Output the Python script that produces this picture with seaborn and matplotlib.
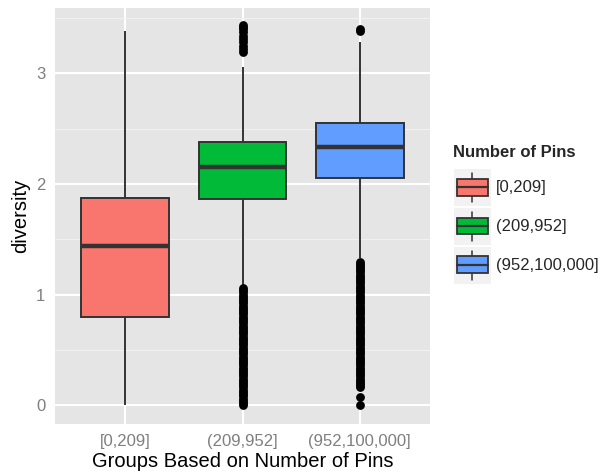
import matplotlib

matplotlib.use("Agg")
import matplotlib.pyplot as plt
import pandas as pd
import seaborn as sns
from matplotlib.legend_handler import HandlerBase
from matplotlib.lines import Line2D
from matplotlib.patches import Patch, Rectangle

# five-number summaries, one entry per group
groups = ["[0,209]", "(209,952]", "(952,100,000]"]
colors = ["#F8766D", "#00BA38", "#619CFF"]
whisker_low = [0.00, 1.09, 1.33]
q1 = [0.80, 1.86, 2.05]
median = [1.44, 2.15, 2.33]
q3 = [1.87, 2.38, 2.55]
whisker_high = [3.38, 3.06, 3.28]

# outliers beyond the whiskers
outliers_1 = []
outliers_2 = [
    0.00, 0.02, 0.04, 0.06, 0.08, 0.10, 0.12, 0.14, 0.16, 0.18,
    0.20, 0.22, 0.24, 0.26, 0.28, 0.30, 0.32, 0.34, 0.36, 0.38,
    0.40, 0.42, 0.44, 0.46, 0.48, 0.50, 0.52, 0.54, 0.56, 0.58,
    0.60, 0.62, 0.64, 0.66, 0.68, 0.70, 0.72, 0.74, 0.76, 0.78,
    0.80, 0.82, 0.84, 0.86, 0.88, 0.90, 0.92, 0.94, 0.96, 0.98,
    1.00, 1.02, 1.04, 1.06,
    3.19, 3.22, 3.25, 3.28, 3.31, 3.34, 3.37, 3.40, 3.42, 3.44,
]
outliers_3 = [
    0.00, 0.07,
    0.16, 0.18, 0.20, 0.22, 0.24, 0.26, 0.28, 0.30, 0.32, 0.34,
    0.36, 0.38, 0.40, 0.42, 0.44, 0.46, 0.48, 0.50, 0.52, 0.54,
    0.56, 0.58, 0.60, 0.62, 0.64, 0.66, 0.68, 0.70, 0.72, 0.74,
    0.76, 0.78, 0.80, 0.82, 0.84, 0.86, 0.88, 0.90, 0.92, 0.94,
    0.96, 0.98, 1.00, 1.02, 1.04, 1.06, 1.08, 1.10, 1.12, 1.14,
    1.16, 1.18, 1.20, 1.22, 1.24, 1.26, 1.28, 1.29,
    3.38, 3.40,
]
outliers = [outliers_1, outliers_2, outliers_3]

# rebuild a sample per group whose quartiles land on the read values
REPEAT = 200
rows = []
for i, name in enumerate(groups):
    values = (
        [whisker_low[i], whisker_high[i]]
        + [q1[i]] * REPEAT
        + [median[i]] * REPEAT
        + [q3[i]] * REPEAT
        + outliers[i]
    )
    rows += [(name, v) for v in values]
df = pd.DataFrame(rows, columns=["group", "diversity"])

sns.set_theme(style="darkgrid")
plt.rcParams["font.family"] = ["Liberation Sans", "DejaVu Sans"]

fig = plt.figure(figsize=(6.02, 4.71), dpi=100)
ax = fig.add_axes([55 / 602, 47 / 471, 375 / 602, 416 / 471])
ax.set_facecolor("#E5E5E5")

sns.boxplot(
    data=df, x="group", y="diversity", hue="group", order=groups, hue_order=groups,
    palette=colors, saturation=1, width=0.75, linecolor="#333333", linewidth=1.4,
    showcaps=False, whis=1.5, fliersize=5.3, legend=False, ax=ax,
    flierprops=dict(marker="o", markerfacecolor="black", markeredgecolor="black",
                    markersize=5.3),
    medianprops=dict(linewidth=3.2),
)

ax.set_xlim(-0.6, 2.6)
ax.set_ylim(-0.17, 3.59)
ax.set_yticks([0, 1, 2, 3])
ax.set_yticks([0.5, 1.5, 2.5, 3.5], minor=True)
ax.grid(which="major", color="white", linewidth=1.5)
ax.grid(which="minor", axis="y", color="#F2F2F2", linewidth=0.7)
ax.set_axisbelow(True)
for s in ax.spines.values():
    s.set_visible(False)
ax.tick_params(which="major", length=3.6, width=0.8, color="#7F7F7F",
               labelcolor="#7F7F7F", labelsize=12, pad=3.5)
ax.tick_params(which="minor", length=0)
ax.set_xlabel("Groups Based on Number of Pins", fontsize=14.5, color="black", labelpad=2)
ax.set_ylabel("diversity", fontsize=14.5, color="black", labelpad=4)


class BoxKey(HandlerBase):
    def create_artists(self, legend, orig_handle, xdescent, ydescent, width, height,
                       fontsize, trans):
        x0, y0 = -xdescent, -ydescent
        bg = Rectangle((x0, y0), width, height, facecolor="#F2F2F2", edgecolor="none",
                       transform=trans)
        cx = x0 + width / 2
        whisk = Line2D([cx, cx], [y0 + 0.1 * height, y0 + 0.9 * height],
                       color="#333333", lw=1.1, transform=trans)
        box = Rectangle((x0 + 0.08 * width, y0 + 0.28 * height), 0.84 * width,
                        0.46 * height, facecolor=orig_handle.get_facecolor(),
                        edgecolor="#333333", lw=1.3, transform=trans)
        med = Line2D([x0 + 0.08 * width, x0 + 0.92 * width],
                     [y0 + 0.52 * height] * 2, color="#333333", lw=1.6,
                     transform=trans)
        return [bg, whisk, box, med]


fig.text(453 / 602, 1 - 153 / 471, "Number of Pins", fontsize=12, weight="bold",
         va="center", ha="left")
handles = [Patch(facecolor=c) for c in colors]
fig.legend(
    handles, groups, handler_map={Patch: BoxKey()},
    loc="upper left", bbox_to_anchor=(454 / 602, 1 - 169 / 471), frameon=False,
    fontsize=12, handlelength=37 / 16.7, handleheight=3.03, labelspacing=0.12,
    handletextpad=0.3, borderpad=0, borderaxespad=0,
)

fig.savefig("out.png", dpi=100)
